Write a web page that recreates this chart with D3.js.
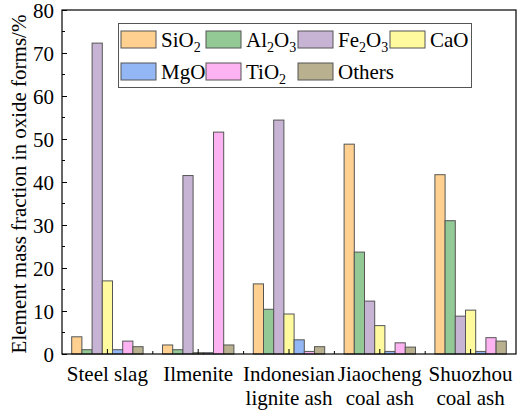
<!DOCTYPE html>
<html>
<head>
<meta charset="utf-8">
<script src="https://cdn.jsdelivr.net/npm/d3@7"></script>
<style>
html,body{margin:0;padding:0;background:#fff;}
svg{display:block;font-family:"Liberation Serif",serif;}
svg text, svg tspan{font-family:"Liberation Serif","Times New Roman",serif;}
</style>
</head>
<body>
<svg id="chart" width="517" height="412"></svg>
<script>
const categories = [["Steel slag"], ["Ilmenite"], ["Indonesian", "lignite ash"], ["Jiaocheng", "coal ash"], ["Shuozhou", "coal ash"]];
const seriesNames = ["SiO2", "Al2O3", "Fe2O3", "CaO", "MgO", "TiO2", "Others"];
const seriesColors = ["#FFD08F", "#93C995", "#C7B3D3", "#FFFA9E", "#93B6F5", "#FDB2F1", "#B8B08E"];
const SiO2   = [4.0, 2.1, 16.3, 48.8, 41.7];
const Al2O3  = [1.0, 1.0, 10.4, 23.7, 31.0];
const Fe2O3  = [72.3, 41.5, 54.4, 12.3, 8.8];
const CaO    = [17.0, 0.3, 9.3, 6.6, 10.2];
const MgO    = [1.0, 0.3, 3.3, 0.6, 0.6];
const TiO2   = [3.0, 51.6, 0.6, 2.6, 3.8];
const Others = [1.7, 2.1, 1.7, 1.6, 3.0];
const seriesValues = [SiO2, Al2O3, Fe2O3, CaO, MgO, TiO2, Others];
const yTicks = [0, 10, 20, 30, 40, 50, 60, 70, 80];

const FONT = "Liberation Serif";
const svg = d3.select("#chart");
const L = 62, R = 516, T = 10, B = 354;

const x0 = d3.scaleBand().domain(d3.range(categories.length)).range([L, R]).paddingInner(0).paddingOuter(0);
const groupPad = 9.7;
const x1 = d3.scaleBand().domain(d3.range(seriesNames.length)).range([groupPad, x0.bandwidth() - groupPad]).padding(0);
const y = d3.scaleLinear().domain([0, 80]).range([B, T]);

// bars
const g = svg.append("g");
categories.forEach((c, ci) => {
  seriesValues.forEach((vals, si) => {
    g.append("rect")
      .attr("x", x0(ci) + x1(si))
      .attr("y", y(vals[ci]))
      .attr("width", x1.bandwidth())
      .attr("height", y(0) - y(vals[ci]))
      .attr("fill", seriesColors[si])
      .attr("stroke", "#555")
      .attr("stroke-width", 1);
  });
});

// frame
svg.append("rect").attr("x", L).attr("y", T).attr("width", R - L).attr("height", B - T)
  .attr("fill", "none").attr("stroke", "#000").attr("stroke-width", 1.2);

// y axis ticks (inward)
const yAxis = d3.axisLeft(y).tickValues(yTicks).tickSize(-5).tickPadding(8).tickFormat(d3.format("d"));
const ya = svg.append("g").attr("transform", `translate(${L},0)`).call(yAxis)
  .attr("font-family", FONT).attr("font-size", 21);
ya.select(".domain").remove();
ya.selectAll("text").attr("fill", "#000").attr("dy", "0.34em");
ya.selectAll("line").attr("stroke", "#000");
const minorY = d3.range(5, 80, 10);
svg.append("g").selectAll("line").data(minorY).join("line")
  .attr("x1", L).attr("x2", L + 3).attr("y1", d => y(d)).attr("y2", d => y(d)).attr("stroke", "#000");

// x axis ticks
svg.append("g").selectAll("line").data(d3.range(categories.length)).join("line")
  .attr("x1", d => x0(d) + x0.bandwidth() / 2).attr("x2", d => x0(d) + x0.bandwidth() / 2)
  .attr("y1", B).attr("y2", B - 5).attr("stroke", "#000");
svg.append("g").selectAll("line").data(d3.range(1, categories.length)).join("line")
  .attr("x1", d => x0(d)).attr("x2", d => x0(d))
  .attr("y1", B).attr("y2", B - 3).attr("stroke", "#000");

// x labels (one text per line)
const xl = svg.append("g");
categories.forEach((lines, ci) => {
  lines.forEach((ln, li) => {
    xl.append("text").attr("text-anchor", "middle").attr("font-size", 21)
      .attr("font-family", FONT).attr("fill", "#000")
      .attr("x", x0(ci) + x0.bandwidth() / 2).attr("y", 381 + li * 24).text(ln);
  });
});

// y title
svg.append("text").attr("transform", `translate(26,${(T + B) / 2 + 2}) rotate(-90)`)
  .attr("text-anchor", "middle").attr("font-size", 21).attr("font-family", FONT).attr("fill", "#000")
  .text("Element mass fraction in oxide forms/%");

// legend
const lg = svg.append("g");
lg.append("rect").attr("x", 118.5).attr("y", 23.5).attr("width", 353).attr("height", 64)
  .attr("fill", "#fff").attr("stroke", "#555").attr("stroke-width", 1);
const colX = [121, 206, 298, 390];
const rowY = [31, 63];
function chem(textSel, name) {
  const parts = name.match(/[A-Za-z]+|\d+/g);
  let shifted = false;
  parts.forEach(p => {
    if (/^\d+$/.test(p)) {
      textSel.append("tspan").attr("font-family", FONT).attr("font-size", 14).attr("dy", 5).text(p);
      shifted = true;
    } else {
      const ts = textSel.append("tspan").attr("font-family", FONT).attr("font-size", 21).text(p);
      if (shifted) { ts.attr("dy", -5); shifted = false; }
    }
  });
}
seriesNames.forEach((name, i) => {
  const col = i < 4 ? i : i - 4;
  const row = i < 4 ? 0 : 1;
  const gx = colX[col], gy = rowY[row];
  lg.append("rect").attr("x", gx).attr("y", gy).attr("width", 35).attr("height", 17)
    .attr("fill", seriesColors[i]).attr("stroke", "#555").attr("stroke-width", 1);
  const t = lg.append("text").attr("x", gx + 40).attr("y", gy + 16).attr("font-size", 21)
    .attr("font-family", FONT).attr("fill", "#000");
  chem(t, name);
});
</script>
</body>
</html>
